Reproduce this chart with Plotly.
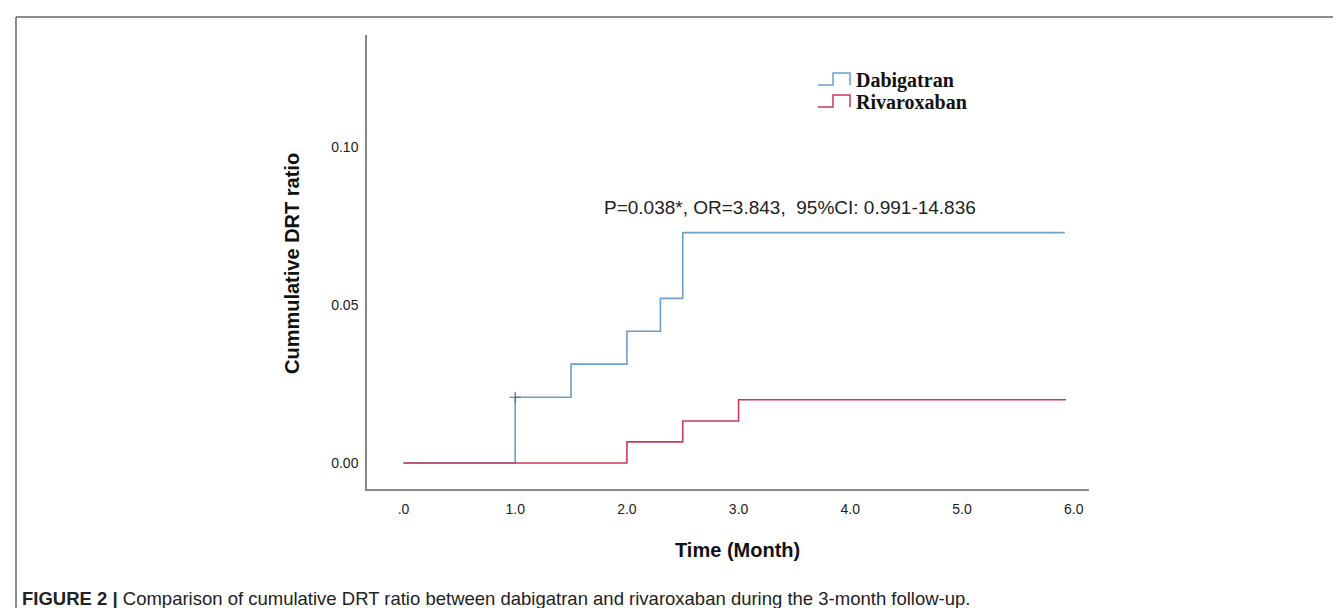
import plotly.graph_objects as go

# ---- data ----
dab_time = [0.0, 1.0, 1.5, 2.0, 2.3, 2.5, 5.92]
dab_ratio = [0.0, 0.0208, 0.0313, 0.0417, 0.0521, 0.0729, 0.0729]
riv_time = [0.0, 2.0, 2.5, 3.0, 5.93]
riv_ratio = [0.0, 0.0067, 0.0133, 0.0200, 0.0200]
censor_time = [1.0]
censor_ratio = [0.0208]
x_tickvals = [0, 1, 2, 3, 4, 5, 6]
x_ticktext = [".0", "1.0", "2.0", "3.0", "4.0", "5.0", "6.0"]
y_tickvals = [0.0, 0.05, 0.10]
y_ticktext = ["0.00", "0.05", "0.10"]
series_names = ["Dabigatran", "Rivaroxaban"]
stat_text = "P=0.038*, OR=3.843, \u00a095%CI: 0.991-14.836"
caption_bold = "FIGURE 2 |"
caption_rest = " Comparison of cumulative DRT ratio between dabigatran and rivaroxaban during the 3-month follow-up."

BLUE = "#6b9fcb"
RED = "#c63a5e"

W, H = 1341, 608
L, R, T, B = 359, 1081, 27, 481


def px(x):
    return (x - L) / (R - L)


def py(y):
    return (B - y) / (B - T)


fig = go.Figure()
fig.add_trace(go.Scatter(x=dab_time, y=dab_ratio, mode="lines", line=dict(color=BLUE, width=1.6, shape="hv"),
                         name=series_names[0], showlegend=False))
fig.add_trace(go.Scatter(x=riv_time, y=riv_ratio, mode="lines", line=dict(color=RED, width=1.6, shape="hv"),
                         name=series_names[1], showlegend=False))
fig.add_trace(go.Scatter(x=censor_time, y=censor_ratio, mode="markers",
                         marker=dict(symbol="cross-thin", size=8, line=dict(color="#4a6f8f", width=1.2)),
                         showlegend=False))

shapes = []
# frame
shapes.append(dict(type="line", xref="paper", yref="paper", x0=px(8), x1=px(1341), y0=py(9), y1=py(9),
                   line=dict(color="#666", width=1.5)))
shapes.append(dict(type="line", xref="paper", yref="paper", x0=px(8), x1=px(8), y0=py(9), y1=py(608),
                   line=dict(color="#666", width=1.5)))
# custom legend icons
for i, col in enumerate([BLUE, RED]):
    yb = 77 + 22 * i
    yt = 65 + 22 * i
    path = (f"M {px(810)},{py(yb)} L {px(825)},{py(yb)} L {px(825)},{py(yt)} "
            f"L {px(842)},{py(yt)} L {px(842)},{py(yb)}")
    shapes.append(dict(type="path", xref="paper", yref="paper", path=path,
                       line=dict(color=col, width=1.5)))

annotations = []
for i, name in enumerate(series_names):
    annotations.append(dict(xref="paper", yref="paper", x=px(846), y=py(72 + 22 * i), text=f"<b>{name}</b>",
                            showarrow=False, xanchor="left", yanchor="middle",
                            font=dict(family="Liberation Serif", size=20, color="#111")))
annotations.append(dict(xref="paper", yref="paper", x=px(782), y=py(200), text=stat_text, showarrow=False,
                        xanchor="center", yanchor="middle",
                        font=dict(family="Liberation Sans, Arial", size=19, color="#222")))
annotations.append(dict(xref="paper", yref="paper", x=px(284), y=py(256), text="<b>Cummulative DRT ratio</b>",
                        textangle=-90, showarrow=False, xanchor="center", yanchor="middle",
                        font=dict(family="Liberation Sans, Arial", size=20, color="#111")))
annotations.append(dict(xref="paper", yref="paper", x=px(729), y=py(542), text="<b>Time (Month)</b>",
                        showarrow=False, xanchor="center", yanchor="middle",
                        font=dict(family="Liberation Sans, Arial", size=20, color="#111")))
annotations.append(dict(xref="paper", yref="paper", x=px(12), y=py(590),
                        text=f"<b>{caption_bold}</b>{caption_rest}", showarrow=False,
                        xanchor="left", yanchor="middle",
                        font=dict(family="Liberation Sans, Arial", size=18.5, color="#222")))

fig.update_layout(
    width=W, height=H,
    margin=dict(l=L, r=W - R, t=T, b=H - B, pad=0),
    paper_bgcolor="white", plot_bgcolor="white",
    shapes=shapes, annotations=annotations,
    xaxis=dict(range=[(L - 395.5) / 111.7, (R - 395.5) / 111.7], tickvals=x_tickvals, ticktext=x_ticktext,
               showgrid=False, zeroline=False, showline=True, linecolor="#888", linewidth=1.5,
               ticks="outside", ticklen=6, tickcolor="rgba(0,0,0,0)",
               tickfont=dict(family="Liberation Sans, Arial", size=14, color="#222")),
    yaxis=dict(range=[-(B - 455) / 3160, (455 - T) / 3160], tickvals=y_tickvals, ticktext=y_ticktext,
               showgrid=False, zeroline=False, showline=True, linecolor="#888", linewidth=1.5,
               ticks="outside", ticklen=4, tickcolor="rgba(0,0,0,0)",
               tickfont=dict(family="Liberation Sans, Arial", size=14, color="#222")),
)

fig.write_html("out.html")
